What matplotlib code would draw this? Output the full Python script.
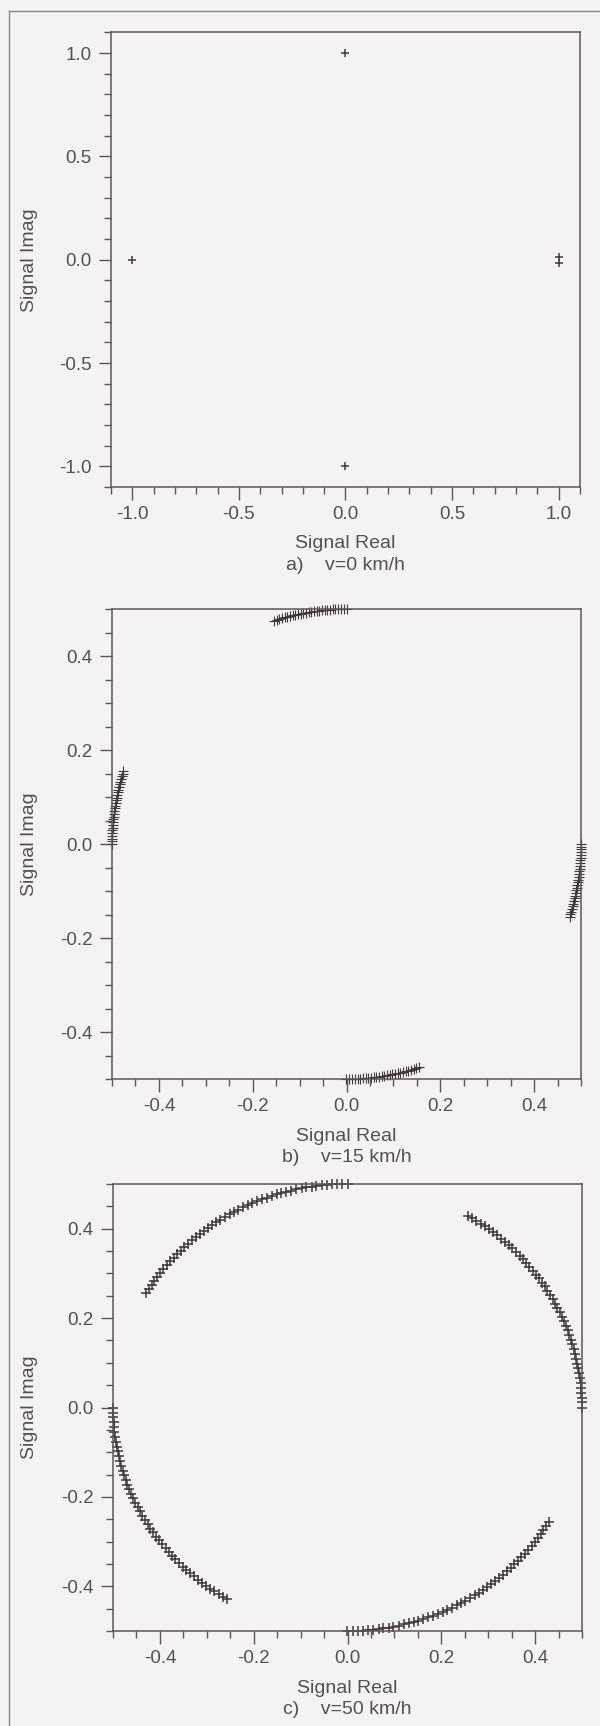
import numpy as np
import matplotlib.pyplot as plt
from matplotlib.ticker import MultipleLocator, FormatStrFormatter
from matplotlib.lines import Line2D

plt.rcParams['font.family'] = ['Liberation Sans', 'DejaVu Sans']
plt.rcParams['axes.unicode_minus'] = False

# a) v=0 km/h : received symbols (the point at 1+0j appears twice, slightly apart)
a_real = [1.0, 1.0, 0.0, -1.0, 0.0]
a_imag = [0.015, -0.015, 1.0, 0.0, -1.0]

# constellation start angles (deg) and radius for b) and c)
base_deg = [0, 90, 180, 270]
radius_bc = 0.5

# b) v=15 km/h : phase drift per symbol (deg), read along each arc
b_phase_deg = [0.0, 0.7, 1.3, 2.0, 2.7, 3.3, 4.0, 4.7, 5.3, 6.0, 6.7, 7.3, 8.0, 8.7,
               9.3, 10.0, 10.7, 11.3, 12.0, 12.7, 13.3, 14.0, 14.7, 15.3, 16.0, 16.7,
               17.3, 18.0]
# direction of the drift for the arcs starting at 0, 90, 180, 270 deg
b_sign = [-1, 1, -1, 1]

# c) v=50 km/h
c_phase_deg = [0.0, 1.3, 2.5, 3.8, 5.0, 6.3, 7.6, 8.8, 10.1, 11.3, 12.6, 13.9,
               15.1, 16.4, 17.6, 18.9, 20.2, 21.4, 22.7, 23.9, 25.2, 26.5, 27.7, 29.0,
               30.2, 31.5, 32.8, 34.0, 35.3, 36.5, 37.8, 39.1, 40.3, 41.6, 42.8, 44.1,
               45.4, 46.6, 47.9, 49.1, 50.4, 51.7, 52.9, 54.2, 55.4, 56.7, 58.0, 59.2]
c_sign = [1, 1, 1, 1]

captions = ['a)    v=0 km/h', 'b)    v=15 km/h', 'c)    v=50 km/h']

W, H = 600, 1726
ink = '#45393e'
axcol = '#5e5559'
txtcol = '#555052'
bg = '#f4f3f1'


def arcs(phase, sign):
    xs, ys = [], []
    ph = np.array(phase)
    for b0, s in zip(base_deg, sign):
        ang = np.deg2rad(b0 + s * ph)
        xs.extend(radius_bc * np.cos(ang))
        ys.extend(radius_bc * np.sin(ang))
    return xs, ys


def px_axes(left, right, top, bottom):
    return [left / W, (H - bottom) / H, (right - left) / W, (bottom - top) / H]


fig = plt.figure(figsize=(W / 100, H / 100), dpi=100, facecolor=bg)

# frame around the page figure
fig.add_artist(Line2D([9 / W, 9 / W], [0, 1 - 11.5 / H], color='#8a8587', lw=1.0))
fig.add_artist(Line2D([9 / W, 1], [1 - 11.5 / H, 1 - 11.5 / H], color='#8a8587', lw=1.0))

boxes = [(111, 580, 32.5, 487), (112, 581, 609, 1079), (113, 582, 1184, 1631)]
bx, by = arcs(b_phase_deg, b_sign)
cx, cy = arcs(c_phase_deg, c_sign)
data = [(a_real, a_imag), (bx, by), (cx, cy)]
msizes = [5.8, 6.6, 6.6]
mews = [1.1, 0.8, 1.1]

for i, (box, (xs, ys)) in enumerate(zip(boxes, data)):
    ax = fig.add_axes(px_axes(*box))
    ax.set_facecolor(bg)
    ax.plot(xs, ys, '+', color=ink, markersize=msizes[i], markeredgewidth=mews[i],
            clip_on=False)

    if i == 0:
        lim, major, minor = 1.1, 0.5, 0.1
    else:
        lim, major, minor = 0.5, 0.2, 0.05
    ax.set_xlim(-lim, lim)
    ax.set_ylim(-lim, lim)
    for axis in (ax.xaxis, ax.yaxis):
        axis.set_major_locator(MultipleLocator(major))
        axis.set_minor_locator(MultipleLocator(minor))
        axis.set_major_formatter(FormatStrFormatter('%.1f'))

    ax.tick_params(which='both', direction='out', color=axcol, width=1.0,
                   labelcolor=txtcol, labelsize=13.5)
    ax.tick_params(which='major', length=9, pad=5)
    ax.tick_params(which='minor', length=4.8)
    for sp in ax.spines.values():
        sp.set_color(axcol)
        sp.set_linewidth(1.1)

    left, right, top, bottom = box
    cxp = (left + right) / 2
    ax.set_ylabel('Signal Imag', fontsize=14, color=txtcol)
    ax.yaxis.set_label_coords(-(left - 38) / (right - left), 0.5)
    fig.text(cxp / W, 1 - (bottom + 57) / H, 'Signal Real', fontsize=14,
             color=txtcol, ha='center', va='center')
    fig.text(cxp / W, 1 - (bottom + 78) / H, captions[i], fontsize=14,
             color=txtcol, ha='center', va='center')

fig.savefig('out.png', dpi=100, facecolor=bg)
